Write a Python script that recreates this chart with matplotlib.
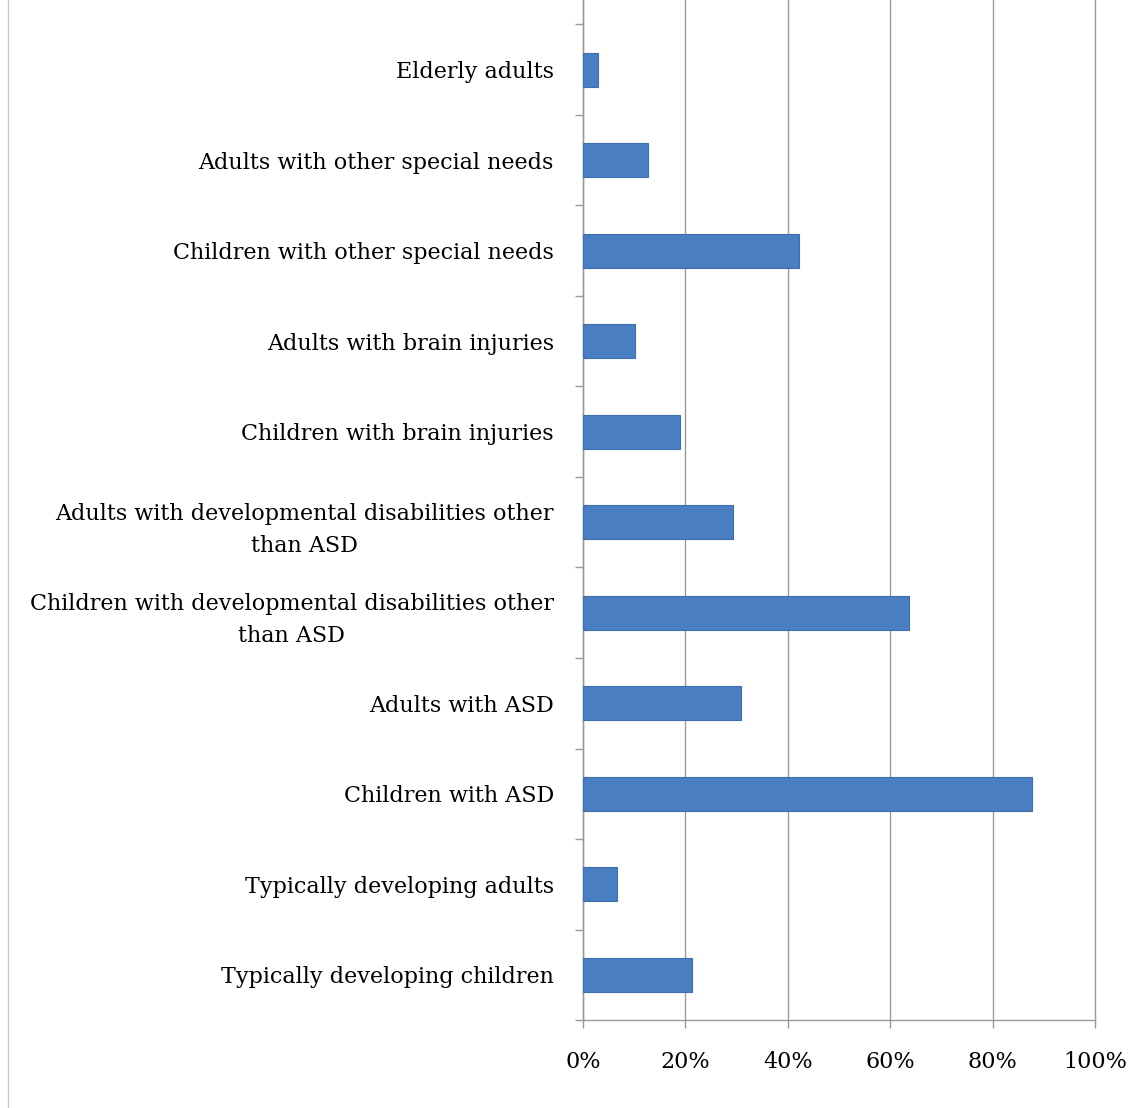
import matplotlib.pyplot as plt
from matplotlib.ticker import FixedLocator, PercentFormatter
from matplotlib.lines import Line2D

# bottom to top, as drawn on the y axis
groups = [
    "Typically developing children",
    "Typically developing adults",
    "Children with ASD",
    "Adults with ASD",
    "Children with developmental disabilities other\nthan ASD",
    "Adults with developmental disabilities other\nthan ASD",
    "Children with brain injuries",
    "Adults with brain injuries",
    "Children with other special needs",
    "Adults with other special needs",
    "Elderly adults",
]
shares = [21.3, 6.6, 87.7, 30.9, 63.7, 29.3, 18.9, 10.2, 42.2, 12.7, 2.9]
x_ticks = [0, 20, 40, 60, 80, 100]

c_bar = "#4A7EC2"
c_grid = "#9A9A9A"

plt.rcParams["font.family"] = ["DejaVu Serif"]

fig = plt.figure(figsize=(11.35, 11.08), dpi=100)
ax = fig.add_axes([0.5137, 0.0794, 0.4511, 0.9206])

ypos = list(range(len(groups)))
ax.barh(ypos, shares, height=0.375, color=c_bar, edgecolor="#3F6EAE",
        linewidth=0.8, zorder=3)

ax.set_xlim(0, 100)
ax.set_ylim(-0.5, 10.77)

ax.set_xticks(x_ticks)
ax.xaxis.set_major_formatter(PercentFormatter(decimals=0))
ax.grid(axis="x", color=c_grid, linewidth=1, zorder=0)
for gl in ax.get_xgridlines():
    gl.set_clip_on(False)

ax.set_yticks(ypos)
ax.set_yticklabels(groups, fontsize=16, multialignment="center", linespacing=1.6)
ax.tick_params(axis="y", which="major", length=0, pad=21)
ax.yaxis.set_minor_locator(FixedLocator([i + 0.5 for i in range(-1, 11)]))
ax.tick_params(axis="y", which="minor", length=6, color=c_grid, width=1)
ax.tick_params(axis="x", length=6, color=c_grid, width=1, labelsize=16, pad=16)

for side in ["top", "right"]:
    ax.spines[side].set_visible(False)
for side in ["left", "bottom"]:
    ax.spines[side].set_color(c_grid)
    ax.spines[side].set_linewidth(1)

# thin frame line along the left edge
fig.add_artist(Line2D([0.007, 0.007], [0, 1], color="#C8C8C8", linewidth=1,
                      transform=fig.transFigure))

fig.savefig("out.png", dpi=100, facecolor="white")
